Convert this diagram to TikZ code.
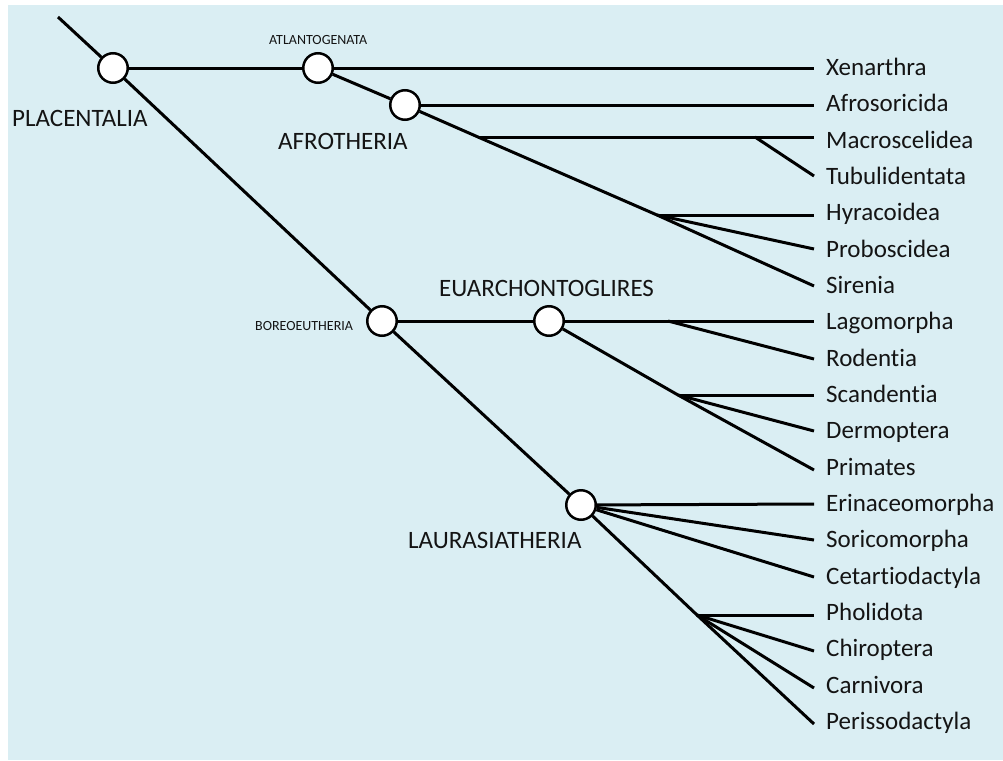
\documentclass[tikz,border=0pt]{standalone}
\usepackage{fontspec}
\setmainfont{Carlito}[Ligatures=NoCommon]
\definecolor{panel}{HTML}{DAEEF3}
\definecolor{ink}{HTML}{141414}
\begin{document}
\begin{tikzpicture}[x=1pt,y=-1pt,
  branch/.style={line width=3pt, line join=round},
  clade/.style={circle, draw, fill=white, line width=2.5pt, minimum size=29.5pt, inner sep=0pt},
  taxon/.style={anchor=west, text=ink, inner sep=0pt, font=\fontsize{25}{29}\selectfont,
                text height=16pt, text depth=0pt},
  bigname/.style={anchor=west, text=ink, inner sep=0pt, font=\fontsize{25}{29}\selectfont,
                text height=16pt, text depth=0pt},
  smallname/.style={anchor=west, text=ink, inner sep=0pt, font=\fontsize{14}{16}\selectfont,
                text height=9pt, text depth=0pt}]
% page and panel
\useasboundingbox (0,0) rectangle (1003,760);
\fill[white] (0,0) rectangle (1003,760);
\fill[panel] (8,5) rectangle (1003,760);

% inner nodes of the tree
\coordinate (root) at (58,17);
\node[clade] (P)  at (113,68) {};
\node[clade] (A)  at (318,68) {};
\node[clade] (Af) at (405,105) {};
\node[clade] (B)  at (382,321) {};
\node[clade] (E)  at (549,321) {};
\node[clade] (L)  at (581,505) {};
\coordinate (b1) at (478,137);
\coordinate (m1) at (755,137);
\coordinate (b2) at (657,215);
\coordinate (r1) at (668,321);
\coordinate (b3) at (678,395);
\coordinate (b4) at (697,615);

% tips
\foreach \n/\y in {Xen/68, Afs/105, Mac/137, Tub/176, Hyr/215, Pro/249, Sir/286,
                   Lag/321, Rod/359, Sca/395, Der/431, Pri/470,
                   Eri/504, Sor/540, Cet/577, Pho/615, Chi/651, Car/688, Per/724}
  \coordinate (t\n) at (814,\y);

% branches
\draw[branch] (root) -- (P);
\draw[branch] (P) -- (A);
\draw[branch] (A) -- (tXen);
\draw[branch] (A) -- (Af);
\draw[branch] (Af) -- (tAfs);
\draw[branch] (Af) -- (b1) -- (b2) -- (tSir);
\draw[branch] (b1) -- (m1) -- (tMac);
\draw[branch] (m1) -- (tTub);
\draw[branch] (b2) -- (tHyr);
\draw[branch] (b2) -- (tPro);
\draw[branch] (P) -- (B);
\draw[branch] (B) -- (E);
\draw[branch] (E) -- (tLag);
\draw[branch] (r1) -- (tRod);
\draw[branch] (E) -- (b3) -- (tPri);
\draw[branch] (b3) -- (tSca);
\draw[branch] (b3) -- (tDer);
\draw[branch] (B) -- (L);
\draw[branch] (L) -- (tEri);
\draw[branch] (L) -- (tSor);
\draw[branch] (L) -- (tCet);
\draw[branch] (L) -- (b4) -- (tPer);
\draw[branch] (b4) -- (tPho);
\draw[branch] (b4) -- (tChi);
\draw[branch] (b4) -- (tCar);

% clade names
\node[bigname]   (nP)  at (12,118)  {PLACENTALIA};
\node[smallname] (nA)  at (269,40)  {ATLANTOGENATA};
\node[bigname]   (nAf) at (278,141) {AFROTHERIA};
\node[smallname] (nB)  at (255,326) {BOREOEUTHERIA};
\node[bigname]   (nE)  at (439,288) {EUARCHONTOGLIRES};
\node[bigname]   (nL)  at (408,540) {LAURASIATHERIA};

% taxon names, one row each
\foreach \n/\txt [count=\i from 0] in {Xen/Xenarthra, Afs/Afrosoricida, Mac/Macroscelidea, Tub/Tubulidentata,
                     Hyr/Hyracoidea, Pro/Proboscidea, Sir/Sirenia,
                     Lag/Lagomorpha, Rod/Rodentia, Sca/Scandentia, Der/Dermoptera, Pri/Primates,
                     Eri/Erinaceomorpha, Sor/Soricomorpha, Cet/Cetartiodactyla,
                     Pho/Pholidota, Chi/Chiroptera, Car/Carnivora, Per/Perissodactyla}
  \node[taxon] (l\n) at (826,{67.5+36.33*\i}) {\txt};
\end{tikzpicture}
\end{document}
